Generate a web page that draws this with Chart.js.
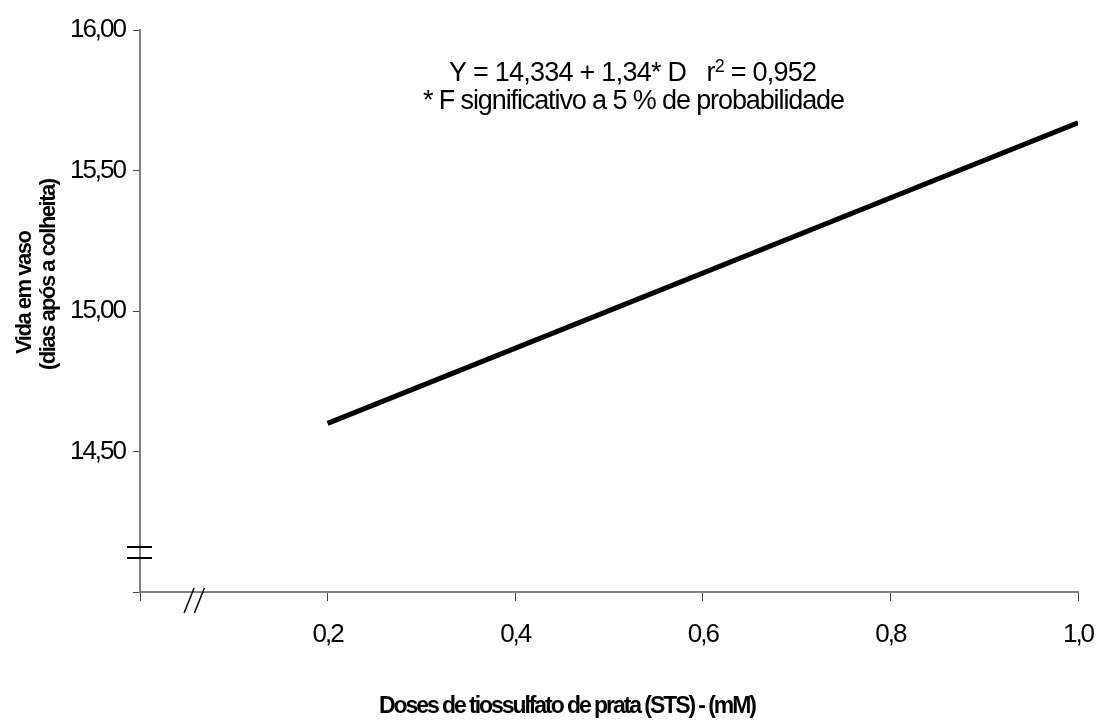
<!DOCTYPE html>
<html>
<head>
<meta charset="utf-8">
<script src="https://cdn.jsdelivr.net/npm/chart.js@4.4.1/dist/chart.umd.min.js"></script>
<style>
  html, body { margin: 0; padding: 0; background: #fff; }
  #wrap { width: 1101px; height: 722px; position: relative; }
</style>
</head>
<body>
<div id="wrap"><canvas id="chart"></canvas></div>
<script>
// Vase life vs STS dose — fitted linear regression line.

const doses = [0.2, 1.0];              // mM
const vaseLife = [14.60, 15.67];       // days after harvest (fitted)
const xTicks = [0, 0.2, 0.4, 0.6, 0.8, 1.0];
const yTicks = [14.0, 14.5, 15.0, 15.5, 16.0];
const equationLine1 = ['Y = 14,334 + 1,34* D   r', '2', ' = 0,952'];
const equationLine2 = '* F significativo a 5 % de probabilidade';
const yTitle = ['Vida em vaso', '(dias após a colheita)'];
const xTitle = 'Doses de tiossulfato de prata (STS) - (mM)';

const FONT = "'Liberation Sans', Arial, sans-serif";

// draw centred text with tight letter spacing so it spans the given width
function spacedText(ctx, text, x, y, width) {
    ctx.letterSpacing = '0px';
    const w = ctx.measureText(text).width;
    const ls = (width - w) / ([...text].length - 1);
    ctx.letterSpacing = ls + 'px';
    ctx.textAlign = 'center';
    ctx.fillText(text, x + ls / 2, y);
}

// Extra drawing: axis titles, equation text and the axis break marks
const decorations = {
    id: 'decorations',
    beforeDraw(chart) {
        // the original tick labels are set very tight
        chart.ctx.letterSpacing = '-2px';
    },
    afterDraw(chart) {
        const ctx = chart.ctx;
        const x = chart.scales.x;
        const y = chart.scales.y;
        ctx.save();
        ctx.fillStyle = '#000';
        ctx.strokeStyle = '#000';
        ctx.textBaseline = 'alphabetic';

        // equation, line 1 with superscript
        const mainFont = '27px ' + FONT;
        const supFont = '18px ' + FONT;
        ctx.letterSpacing = '0px';
        ctx.font = mainFont;
        const w0 = ctx.measureText(equationLine1[0]).width;
        const w2 = ctx.measureText(equationLine1[2]).width;
        ctx.font = supFont;
        const w1 = ctx.measureText(equationLine1[1]).width;
        const n = equationLine1.join('').length;
        const ls = (368 - (w0 + w1 + w2)) / (n - 1);
        ctx.letterSpacing = ls + 'px';
        ctx.textAlign = 'left';
        let px = 449;
        ctx.font = mainFont;
        ctx.fillText(equationLine1[0], px, 81);
        px += w0 + equationLine1[0].length * ls;
        ctx.font = supFont;
        ctx.fillText(equationLine1[1], px, 72);
        px += w1 + equationLine1[1].length * ls;
        ctx.font = mainFont;
        ctx.fillText(equationLine1[2], px, 81);

        ctx.font = mainFont;
        spacedText(ctx, equationLine2, 634, 109, 422);

        // axis titles
        ctx.font = 'bold 23px ' + FONT;
        spacedText(ctx, xTitle, 568, 713, 378);

        ctx.font = 'bold 22px ' + FONT;
        ctx.save();
        ctx.translate(31, 292);
        ctx.rotate(-Math.PI / 2);
        spacedText(ctx, yTitle[0], 0, 0, 124);
        ctx.restore();
        ctx.save();
        ctx.translate(55, 274);
        ctx.rotate(-Math.PI / 2);
        spacedText(ctx, yTitle[1], 0, 0, 192);
        ctx.restore();

        // break on the y axis
        const x0 = x.getPixelForValue(0);
        ctx.lineWidth = 2;
        [14.16, 14.12].forEach(v => {
            const py = Math.round(y.getPixelForValue(v));
            ctx.beginPath();
            ctx.moveTo(x0 - 13, py);
            ctx.lineTo(x0 + 12, py);
            ctx.stroke();
        });

        // break on the x axis
        const yb = y.getPixelForValue(14);
        ctx.lineWidth = 1.5;
        [0.047, 0.058].forEach(v => {
            const bx = x.getPixelForValue(v);
            ctx.beginPath();
            ctx.moveTo(bx, yb + 21);
            ctx.lineTo(bx + 10, yb - 4);
            ctx.stroke();
        });
        ctx.restore();
    }
};

new Chart(document.getElementById('chart').getContext('2d'), {
    type: 'line',
    data: {
        datasets: [{
            data: doses.map((d, i) => ({ x: d, y: vaseLife[i] })),
            borderColor: '#000',
            borderWidth: 5,
            pointRadius: 0,
            tension: 0,
            fill: false
        }]
    },
    options: {
        responsive: true,
        maintainAspectRatio: false,
        animation: false,
        layout: { padding: { top: 30, right: 23, left: 0, bottom: 0 } },
        plugins: {
            legend: { display: false },
            tooltip: { enabled: false }
        },
        scales: {
            x: {
                type: 'linear',
                min: 0,
                max: 1,
                afterBuildTicks(scale) {
                    scale.ticks = xTicks.map(v => ({ value: v }));
                },
                afterFit(scale) {
                    scale.height = 130;
                    scale.paddingLeft = 0;
                    scale.paddingRight = 0;
                },
                grid: { drawOnChartArea: false, tickLength: 9, tickColor: '#444', lineWidth: 1 },
                border: { color: '#808080', width: 2 },
                ticks: {
                    color: '#000',
                    padding: 18,
                    maxRotation: 0,
                    font: { family: FONT, size: 26 },
                    callback: v => v === 0 ? '' : v.toFixed(1).replace('.', ',')
                }
            },
            y: {
                type: 'linear',
                min: 14,
                max: 16,
                afterBuildTicks(scale) {
                    scale.ticks = yTicks.map(v => ({ value: v }));
                },
                afterFit(scale) {
                    scale.width = 140;
                    scale.paddingTop = 0;
                    scale.paddingBottom = 0;
                },
                grid: { drawOnChartArea: false, tickLength: 7, tickColor: '#444', lineWidth: 1 },
                border: { color: '#808080', width: 2 },
                ticks: {
                    color: '#000',
                    padding: 8,
                    font: { family: FONT, size: 26 },
                    callback: v => v === 14 ? '' : v.toFixed(2).replace('.', ',')
                }
            }
        }
    },
    plugins: [decorations]
});
</script>
</body>
</html>
